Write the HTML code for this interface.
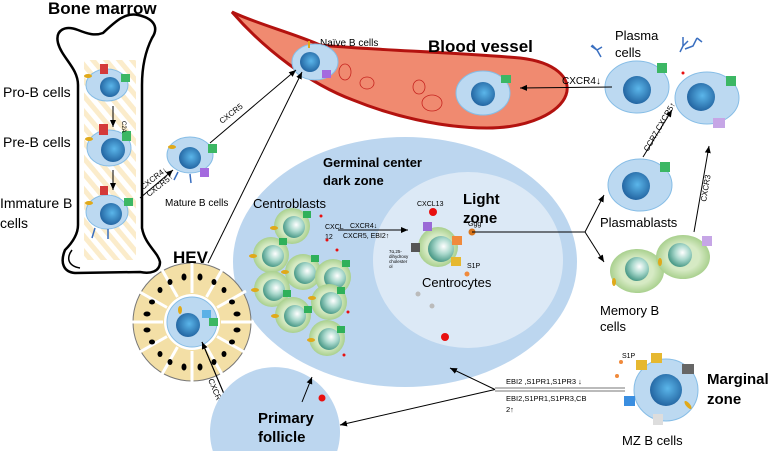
<!DOCTYPE html>
<html><head><meta charset="utf-8"><style>
html,body{margin:0;padding:0;background:#fff;width:777px;height:451px;overflow:hidden;}
svg{display:block;font-family:"Liberation Sans",sans-serif;}
</style></head><body>
<svg width="777" height="451" viewBox="0 0 777 451" xmlns="http://www.w3.org/2000/svg" overflow="hidden">
<defs>
<radialGradient id="nb" cx="0.55" cy="0.45" r="0.6"><stop offset="0" stop-color="#5bb6ea"/><stop offset="1" stop-color="#1f5f9c"/></radialGradient>
<radialGradient id="ng" cx="0.6" cy="0.4" r="0.6"><stop offset="0" stop-color="#ffffff"/><stop offset="0.5" stop-color="#a9d8cc"/><stop offset="1" stop-color="#4e9c8a"/></radialGradient>
<radialGradient id="cg" cx="0.5" cy="0.5" r="0.5"><stop offset="0.6" stop-color="#d6eac4"/><stop offset="1" stop-color="#a9d08e"/></radialGradient>
<marker id="ar" markerWidth="8" markerHeight="8" refX="7" refY="4" orient="auto" markerUnits="userSpaceOnUse"><path d="M0,1 L7,4 L0,7 Z" fill="#000"/></marker>
<pattern id="hatch" width="10" height="10" patternUnits="userSpaceOnUse" patternTransform="rotate(-40)"><rect width="10" height="10" fill="#fff"/><rect width="5" height="10" fill="#fbeccb"/></pattern>
<g id="cb"><circle r="18" fill="url(#cg)"/><circle cx="2" cy="1" r="11" fill="url(#ng)"/></g>
</defs>

<rect x="84" y="60" width="52" height="200" fill="url(#hatch)"/>
<path d="M58,43 C55,30 65,25 78,30 C88,34 95,36 103,33 C115,22 125,12 138,15 C152,18 160,26 152,38 C146,50 142,65 142,85 L142,228 C145,245 158,252 160,262 C160,272 150,274 140,272 L75,273 C63,272 60,262 65,250 C75,240 78,232 78,225 L78,85 C78,68 62,58 58,43 Z" fill="none" stroke="#000" stroke-width="2.5"/>
<path d="M72,250 C66,258 68,266 80,268" fill="none" stroke="#000" stroke-width="1.5"/>
<text x="48" y="14" font-size="17" font-weight="bold">Bone marrow</text>
<text x="3" y="97" font-size="14">Pro-B cells</text>
<text x="3" y="147" font-size="14">Pre-B cells</text>
<text x="0" y="208" font-size="14">Immature B</text>
<text x="0" y="228" font-size="14">cells</text>

<g>
<ellipse cx="107" cy="85" rx="21" ry="16" fill="#bcd9f1" stroke="#86bde6"/><circle cx="110" cy="87" r="10" fill="url(#nb)"/>
<rect x="100" y="64" width="8" height="10" fill="#d43a3a"/><rect x="121" y="74" width="9" height="8" fill="#3cb764"/><ellipse cx="88" cy="76" rx="4" ry="2" fill="#e0a91a"/>
<ellipse cx="109" cy="148" rx="22" ry="18" fill="#bcd9f1" stroke="#86bde6"/><circle cx="113" cy="150" r="12" fill="url(#nb)"/>
<rect x="99" y="124" width="9" height="11" fill="#d43a3a"/><rect x="122" y="131" width="9" height="10" fill="#3cb764"/><ellipse cx="89" cy="139" rx="4" ry="2" fill="#e0a91a"/>
<ellipse cx="107" cy="212" rx="21" ry="17" fill="#bcd9f1" stroke="#86bde6"/><circle cx="111" cy="214" r="11" fill="url(#nb)"/>
<rect x="100" y="186" width="8" height="9" fill="#d43a3a"/><rect x="124" y="198" width="9" height="8" fill="#3cb764"/><ellipse cx="89" cy="203" rx="4" ry="2" fill="#e0a91a"/>
<path d="M95,228 l-3,10 M108,229 l0,10" stroke="#3a6fc0" stroke-width="1.5"/>
<text x="122" y="121" font-size="6" transform="rotate(90 122 121)">C2A</text>
</g>
<line x1="113" y1="106" x2="113" y2="127" stroke="#000" marker-end="url(#ar)"/>
<line x1="113" y1="170" x2="113" y2="190" stroke="#000" marker-end="url(#ar)"/>

<path d="M232,12 C260,25 290,32 320,45 C370,50 450,52 520,58 C555,62 572,78 566,95 C560,112 530,128 487,128 C440,128 390,115 353,100 C310,84 265,50 232,12 Z" fill="#f08a70" stroke="#b3120f" stroke-width="3"/>
<ellipse cx="345" cy="72" rx="6" ry="8" fill="none" stroke="#c6241f" stroke-width="0.8"/>
<ellipse cx="367" cy="83" rx="7" ry="6" fill="none" stroke="#c6241f" stroke-width="0.8"/>
<ellipse cx="419" cy="87" rx="6" ry="7" fill="none" stroke="#c6241f" stroke-width="0.8"/>
<ellipse cx="432" cy="103" rx="10" ry="8" fill="none" stroke="#c6241f" stroke-width="0.8"/>
<text x="428" y="52" font-size="17" font-weight="bold">Blood vessel</text>
<text x="320" y="46" font-size="10">Naïve B cells</text>
<ellipse cx="315" cy="62" rx="23" ry="18" fill="#bcd9f1" stroke="#86bde6"/><circle cx="310" cy="62" r="10" fill="url(#nb)"/>
<rect x="322" y="70" width="9" height="8" fill="#a46adf"/><rect x="308" y="41" width="2" height="7" fill="#e0a91a"/>
<ellipse cx="483" cy="93" rx="27" ry="22" fill="#bcd9f1" stroke="#86bde6"/><circle cx="483" cy="94" r="12" fill="url(#nb)"/>
<rect x="501" y="75" width="10" height="8" fill="#3cb764"/>

<ellipse cx="190" cy="155" rx="23" ry="18" fill="#bcd9f1" stroke="#86bde6"/><circle cx="190" cy="158" r="11" fill="url(#nb)"/>
<rect x="208" y="144" width="9" height="9" fill="#3cb764"/><rect x="200" y="168" width="9" height="9" fill="#a46adf"/><ellipse cx="172" cy="147" rx="4" ry="2" fill="#e0a91a"/>
<path d="M178,172 l-4,8 M190,174 l1,9" stroke="#3a6fc0" stroke-width="1.5"/>
<text x="165" y="206" font-size="10">Mature B cells</text>
<line x1="140" y1="198" x2="173" y2="170" stroke="#000" marker-end="url(#ar)"/>
<text x="143" y="190" font-size="8" transform="rotate(-38 143 190)">CXCR4↓</text>
<text x="149" y="197" font-size="8" transform="rotate(-38 149 197)">CXCR5↑</text>
<line x1="210" y1="143" x2="296" y2="70" stroke="#000" marker-end="url(#ar)"/>
<text x="222" y="124" font-size="8" transform="rotate(-38 222 124)">CXCR5</text>
<line x1="208" y1="263" x2="302" y2="72" stroke="#000" marker-end="url(#ar)"/>

<ellipse cx="405" cy="262" rx="172" ry="125" fill="#bcd6ef"/>
<ellipse cx="468" cy="260" rx="95" ry="88" fill="#dce9f6"/>
<text x="323" y="167" font-size="13" font-weight="bold">Germinal center</text>
<text x="323" y="185" font-size="13" font-weight="bold">dark zone</text>
<text x="463" y="204" font-size="15" font-weight="bold">Light</text>
<text x="463" y="223" font-size="15" font-weight="bold">zone</text>
<text x="253" y="208" font-size="13">Centroblasts</text>
<text x="422" y="287" font-size="13">Centrocytes</text>
<text x="417" y="206" font-size="7">CXCL13</text>
<circle cx="433" cy="212" r="4" fill="#e81010"/>
<text x="325" y="229" font-size="7">CXCL</text><text x="325" y="239" font-size="7">12</text>
<line x1="338" y1="230" x2="408" y2="230" stroke="#000" marker-end="url(#ar)"/>
<text x="350" y="228" font-size="7">CXCR4↓</text>
<text x="343" y="238" font-size="7">CXCR5, EBI2↑</text>
<text x="389" y="253" font-size="4.5">7α,25-</text><text x="389" y="258" font-size="4.5">dihydroxy</text><text x="389" y="263" font-size="4.5">cholester</text><text x="389" y="268" font-size="4.5">ol</text>
<circle cx="321" cy="216" r="1.5" fill="#e81010"/><circle cx="327" cy="240" r="1.5" fill="#e81010"/><circle cx="337" cy="250" r="1.5" fill="#e81010"/><circle cx="348" cy="312" r="1.5" fill="#e81010"/><circle cx="344" cy="355" r="1.5" fill="#e81010"/>
<circle cx="418" cy="294" r="2.5" fill="#bbb"/><circle cx="432" cy="306" r="2.5" fill="#bbb"/><circle cx="445" cy="337" r="4" fill="#e81010"/>
<circle cx="438" cy="247" r="20" fill="url(#cg)"/><circle cx="441" cy="249" r="13" fill="url(#ng)"/>
<rect x="423" y="222" width="9" height="9" fill="#9a6ad6"/><rect x="452" y="236" width="10" height="9" fill="#f08a3c"/><rect x="451" y="257" width="10" height="9" fill="#e6b830"/><rect x="411" y="243" width="9" height="9" fill="#555"/>
<circle cx="472" cy="232" r="3.5" fill="#d8751c"/><text x="468" y="226" font-size="7">Ggg</text>
<circle cx="467" cy="274" r="2.5" fill="#f08a3c"/><text x="467" y="268" font-size="7">S1P</text>
<use href="#cb" x="292" y="226"/><use href="#cb" x="271" y="255"/><use href="#cb" x="303" y="272"/><use href="#cb" x="333" y="277"/><use href="#cb" x="272" y="289"/><use href="#cb" x="329" y="302"/><use href="#cb" x="293" y="315"/><use href="#cb" x="327" y="338"/>
<g fill="#2fb05a"><rect x="303" y="211" width="8" height="7"/><rect x="279" y="238" width="8" height="7"/><rect x="311" y="255" width="8" height="7"/><rect x="342" y="260" width="8" height="7"/><rect x="283" y="290" width="8" height="7"/><rect x="337" y="287" width="8" height="7"/><rect x="304" y="306" width="8" height="7"/><rect x="337" y="326" width="8" height="7"/></g>
<g fill="#e0a91a"><ellipse cx="274" cy="228" rx="4" ry="2"/><ellipse cx="253" cy="256" rx="4" ry="2"/><ellipse cx="285" cy="272" rx="4" ry="2"/><ellipse cx="255" cy="290" rx="4" ry="2"/><ellipse cx="312" cy="298" rx="4" ry="2"/><ellipse cx="275" cy="316" rx="4" ry="2"/><ellipse cx="311" cy="340" rx="4" ry="2"/></g>

<g transform="translate(192,322)">
<circle r="59" fill="#f3dfa6" stroke="#777" stroke-width="1"/>
<g stroke="#fff" stroke-width="3">
<line x1="0" y1="-29" x2="0" y2="-62"/><line x1="0" y1="29" x2="0" y2="62"/><line x1="-29" y1="0" x2="-62" y2="0"/><line x1="29" y1="0" x2="62" y2="0"/>
<line x1="14.5" y1="-25" x2="31" y2="-54"/><line x1="25" y1="-14.5" x2="54" y2="-31"/><line x1="-14.5" y1="-25" x2="-31" y2="-54"/><line x1="-25" y1="-14.5" x2="-54" y2="-31"/>
<line x1="14.5" y1="25" x2="31" y2="54"/><line x1="25" y1="14.5" x2="54" y2="31"/><line x1="-14.5" y1="25" x2="-31" y2="54"/><line x1="-25" y1="14.5" x2="-54" y2="31"/>
</g>
<g fill="#000"><ellipse cx="-8" cy="-45" rx="2.5" ry="3.5"/><ellipse cx="8" cy="-45" rx="2.5" ry="3.5"/><ellipse cx="-8" cy="45" rx="2.5" ry="3.5"/><ellipse cx="8" cy="45" rx="2.5" ry="3.5"/><ellipse cx="-45" cy="-8" rx="3.5" ry="2.5"/><ellipse cx="-45" cy="8" rx="3.5" ry="2.5"/><ellipse cx="45" cy="-8" rx="3.5" ry="2.5"/><ellipse cx="45" cy="8" rx="3.5" ry="2.5"/><ellipse cx="-32" cy="-32" rx="2.5" ry="3"/><ellipse cx="32" cy="-32" rx="2.5" ry="3"/><ellipse cx="-32" cy="32" rx="2.5" ry="3"/><ellipse cx="32" cy="32" rx="2.5" ry="3"/><ellipse cx="-22" cy="-40" rx="2.5" ry="3"/><ellipse cx="22" cy="-40" rx="2.5" ry="3"/><ellipse cx="-22" cy="40" rx="2.5" ry="3"/><ellipse cx="22" cy="40" rx="2.5" ry="3"/><ellipse cx="-40" cy="-20" rx="3" ry="2.5"/><ellipse cx="40" cy="-20" rx="3" ry="2.5"/><ellipse cx="-40" cy="20" rx="3" ry="2.5"/><ellipse cx="40" cy="20" rx="3" ry="2.5"/></g>
<circle r="28" fill="#fff"/>
<circle r="25" fill="#bcd9f1" stroke="#86bde6"/><circle cx="-4" cy="3" r="12" fill="url(#nb)"/>
<rect x="10" y="-12" width="9" height="8" fill="#5bb1e6"/><rect x="17" y="-4" width="9" height="8" fill="#3cb764"/><ellipse cx="-12" cy="-12" rx="2" ry="4" fill="#e0a91a"/>
</g>
<text x="173" y="263" font-size="17" font-weight="bold">HEV</text>
<line x1="202" y1="342" x2="238" y2="427" stroke="#000" marker-end="url(#ar)"/>
<line x1="238" y1="427" x2="202" y2="342" stroke="#000" marker-end="url(#ar)"/>
<text x="208" y="380" font-size="8" transform="rotate(67 208 380)">CXCR4,CCR7</text>

<path d="M212.8,451 A65,65 0 1 1 337.2,451 Z" fill="#bcd6ef"/>
<text x="258" y="423" font-size="15" font-weight="bold">Primary</text>
<text x="258" y="442" font-size="15" font-weight="bold">follicle</text>
<circle cx="322" cy="398" r="3.5" fill="#e81010"/>
<line x1="302" y1="402" x2="312" y2="377" stroke="#000" marker-end="url(#ar)"/>

<line x1="495" y1="388" x2="625" y2="388" stroke="#777" stroke-width="1"/>
<line x1="495" y1="391" x2="625" y2="391" stroke="#777" stroke-width="1"/>
<line x1="495" y1="389.5" x2="450" y2="368" stroke="#000" marker-end="url(#ar)"/>
<line x1="495" y1="389.5" x2="340" y2="425" stroke="#000" marker-end="url(#ar)"/>
<text x="506" y="384" font-size="7.5">EBI2 ,S1PR1,S1PR3 ↓</text>
<text x="506" y="401" font-size="7.5">EBI2,S1PR1,S1PR3,CB</text>
<text x="506" y="412" font-size="7.5">2↑</text>
<ellipse cx="666" cy="390" rx="32" ry="31" fill="#bcd9f1" stroke="#86bde6"/><circle cx="666" cy="390" r="16" fill="url(#nb)"/>
<rect x="636" y="360" width="11" height="10" fill="#e6b830"/><rect x="651" y="353" width="11" height="10" fill="#e6b830"/><rect x="682" y="364" width="12" height="10" fill="#666"/><rect x="624" y="396" width="11" height="10" fill="#3a8ee0"/><rect x="653" y="414" width="10" height="11" fill="#ddd"/><ellipse cx="688" cy="405" rx="2" ry="5" fill="#e0a91a" transform="rotate(-40 688 405)"/>
<circle cx="621" cy="362" r="2" fill="#f08a3c"/><circle cx="617" cy="376" r="2" fill="#f08a3c"/>
<text x="622" y="358" font-size="7">S1P</text>
<text x="707" y="384" font-size="15" font-weight="bold">Marginal</text>
<text x="707" y="404" font-size="15" font-weight="bold">zone</text>
<text x="622" y="445" font-size="13">MZ B cells</text>

<line x1="472" y1="232" x2="585" y2="232" stroke="#000"/>
<line x1="585" y1="232" x2="604" y2="195" stroke="#000" marker-end="url(#ar)"/>
<line x1="585" y1="232" x2="604" y2="262" stroke="#000" marker-end="url(#ar)"/>

<text x="615" y="40" font-size="13">Plasma</text>
<text x="615" y="57" font-size="13">cells</text>
<path d="M592,45 l5,5 m0,0 l-6,-4 m6,4 l5,-3 m-5,3 l4,7" stroke="#3a6fc0" stroke-width="1.5" fill="none"/>
<path d="M683,37 l0,9 m0,0 l-3,6 m3,-6 l5,-5 M697,38 l-4,8 l-8,3 m12,-11 l5,4" stroke="#3a6fc0" stroke-width="1.5" fill="none"/>
<ellipse cx="637" cy="87" rx="32" ry="26" fill="#bcd9f1" stroke="#86bde6"/><circle cx="637" cy="90" r="14" fill="url(#nb)"/><rect x="657" y="63" width="10" height="10" fill="#3cb764"/>
<ellipse cx="707" cy="98" rx="32" ry="26" fill="#bcd9f1" stroke="#86bde6"/><circle cx="701" cy="97" r="14" fill="url(#nb)"/><rect x="726" y="76" width="10" height="10" fill="#3cb764"/><rect x="713" y="118" width="12" height="10" fill="#c6a6e6"/>
<circle cx="683" cy="73" r="1.5" fill="#e81010"/>
<line x1="612" y1="87" x2="520" y2="88" stroke="#000" marker-end="url(#ar)"/>
<text x="562" y="84" font-size="10">CXCR4↓</text>
<ellipse cx="640" cy="185" rx="32" ry="26" fill="#bcd9f1" stroke="#86bde6"/><circle cx="636" cy="186" r="14" fill="url(#nb)"/><rect x="660" y="162" width="10" height="10" fill="#3cb764"/>
<text x="600" y="227" font-size="13">Plasmablasts</text>
<line x1="643" y1="157" x2="672" y2="110" stroke="#000" marker-end="url(#ar)"/>
<text x="648" y="152" font-size="8" transform="rotate(-60 648 152)">CCR7,CXCR5↑</text>
<ellipse cx="637" cy="271" rx="27" ry="22" fill="url(#cg)"/><circle cx="637" cy="269" r="12" fill="url(#ng)"/>
<ellipse cx="683" cy="257" rx="27" ry="22" fill="url(#cg)"/><circle cx="680" cy="255" r="12" fill="url(#ng)"/>
<rect x="702" y="236" width="10" height="10" fill="#c6a6e6"/>
<ellipse cx="614" cy="282" rx="2" ry="4" fill="#e0a91a"/><ellipse cx="660" cy="262" rx="2" ry="4" fill="#e0a91a"/>
<line x1="694" y1="232" x2="709" y2="146" stroke="#000" marker-end="url(#ar)"/>
<text x="706" y="202" font-size="8" transform="rotate(-80 706 202)">CXCR3</text>
<text x="600" y="315" font-size="13">Memory B</text>
<text x="600" y="331" font-size="13">cells</text>
</svg>
</body></html>
